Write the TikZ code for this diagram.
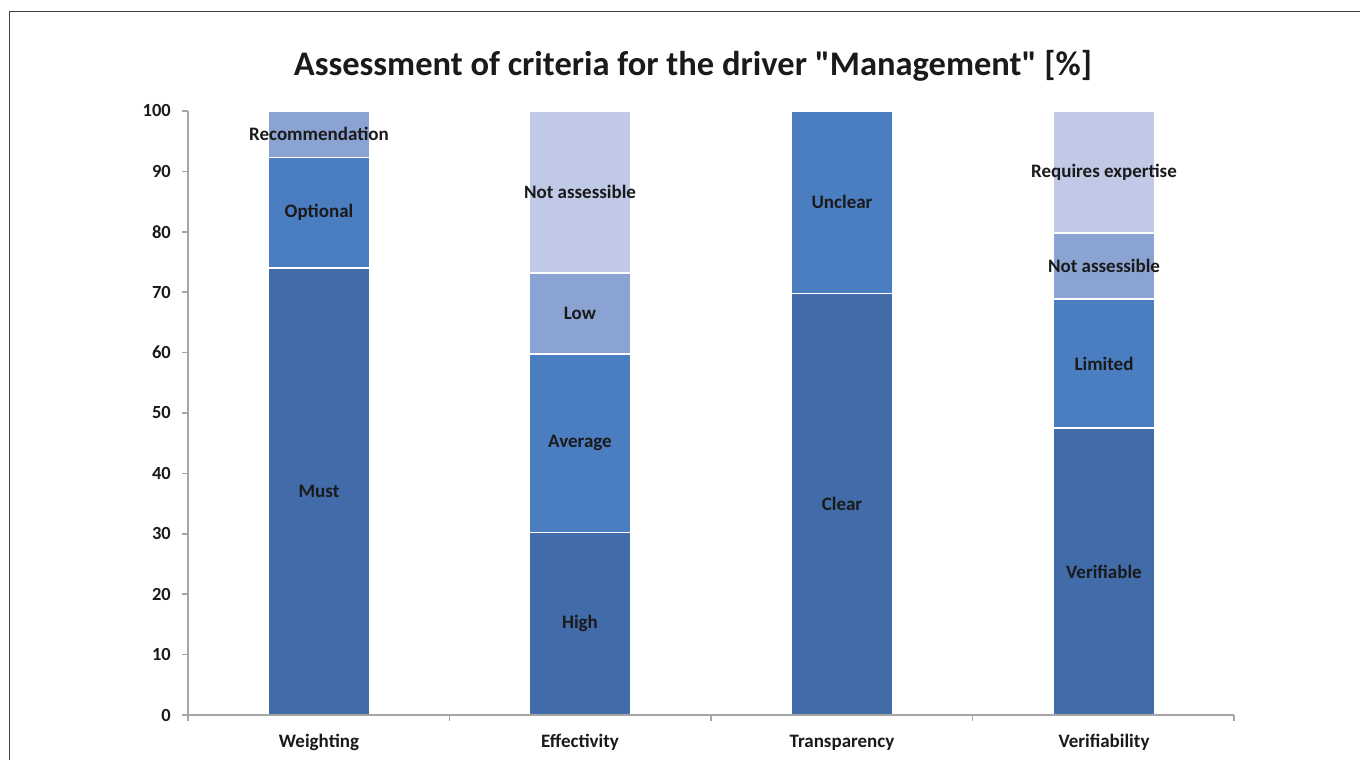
\documentclass[tikz,border=0pt]{standalone}
\usepackage{fontspec}
\setmainfont{Carlito}[Ligatures=TeXOff]
\usepackage{tikz}
\newcommand{\bw}{102}
\definecolor{blueA}{HTML}{416BA9}
\definecolor{blueB}{HTML}{4B7EC1}
\definecolor{blueC}{HTML}{8BA3D3}
\definecolor{blueD}{HTML}{C0CAE6}
\definecolor{axisgray}{HTML}{A6A6A6}
\definecolor{txt}{HTML}{1A1A1A}

\begin{document}
\begin{tikzpicture}[x=1pt,y=1pt,
    seg/.style={draw=white, line width=1.4pt},
    lbl/.style={font=\bfseries\fontsize{19}{22}\selectfont, text=txt, inner sep=0pt},
    ticklbl/.style={lbl, font=\bfseries\fontsize{18.5}{22}\selectfont, anchor=east},
    tick/.style={draw=axisgray, line width=1.6pt}]
    \useasboundingbox (0,0) rectangle (1360,760);
    % frame
    \draw[line width=1pt, black!75] (9,0) -- (9,748) -- (1360,748);
    \node[font=\bfseries\fontsize{34.5}{40}\selectfont, text=txt] (title) at (693,694) {Assessment of criteria for the driver "Management" [\%]};

    \begin{scope}[shift={(0,45)}, y=6.04pt]
    % Weighting
    \draw[seg, fill=blueA] (268,0) rectangle (370,74.0);
    \draw[seg, fill=blueB] (268,74.0) rectangle (370,92.3);
    \draw[seg, fill=blueC] (268,92.3) rectangle (370,100);
    \node[lbl] (lbl-1-1) at (319,37.0) {Must};
    \node[lbl] (lbl-1-2) at (319,83.15) {Optional};
    \node[lbl] (lbl-1-3) at (319,96.15) {Recommendation};

    % Effectivity
    \draw[seg, fill=blueA] (529,0) rectangle (631,30.2);
    \draw[seg, fill=blueB] (529,30.2) rectangle (631,59.8);
    \draw[seg, fill=blueC] (529,59.8) rectangle (631,73.2);
    \draw[seg, fill=blueD] (529,73.2) rectangle (631,100);
    \node[lbl] (lbl-2-1) at (580,15.1) {High};
    \node[lbl] (lbl-2-2) at (580,45.0) {Average};
    \node[lbl] (lbl-2-3) at (580,66.5) {Low};
    \node[lbl] (lbl-2-4) at (580,86.6) {Not assessible};

    % Transparency
    \draw[seg, fill=blueA] (791,0) rectangle (893,69.8);
    \draw[seg, fill=blueB] (791,69.8) rectangle (893,100);
    \node[lbl] (lbl-3-1) at (842,34.9) {Clear};
    \node[lbl] (lbl-3-2) at (842,84.9) {Unclear};

    % Verifiability
    \draw[seg, fill=blueA] (1053,0) rectangle (1155,47.5);
    \draw[seg, fill=blueB] (1053,47.5) rectangle (1155,68.9);
    \draw[seg, fill=blueC] (1053,68.9) rectangle (1155,79.8);
    \draw[seg, fill=blueD] (1053,79.8) rectangle (1155,100);
    \node[lbl] (lbl-4-1) at (1104,23.75) {Verifiable};
    \node[lbl] (lbl-4-2) at (1104,58.2) {Limited};
    \node[lbl] (lbl-4-3) at (1104,74.35) {Not assessible};
    \node[lbl] (lbl-4-4) at (1104,89.9) {Requires expertise};

    % axes
    \draw[tick] (188,100) -- (188,0) -- (1234,0);
    \foreach \v in {0,10,...,100} {
        \draw[tick] (182,\v) -- (188,\v);
        \node[ticklbl] (ytick-\v) at (171,\v) {\v};
    }
    \foreach \x in {188,449.5,711,972.5,1234} {
        \draw[tick] (\x,0) -- (\x,-1);
    }
    \node[lbl] (cat-1) at (319,-4.6) {Weighting};
    \node[lbl] (cat-2) at (580,-4.6) {Effectivity};
    \node[lbl] (cat-3) at (842,-4.6) {Transparency};
    \node[lbl] (cat-4) at (1104,-4.6) {Verifiability};
    \end{scope}
\end{tikzpicture}
\end{document}
